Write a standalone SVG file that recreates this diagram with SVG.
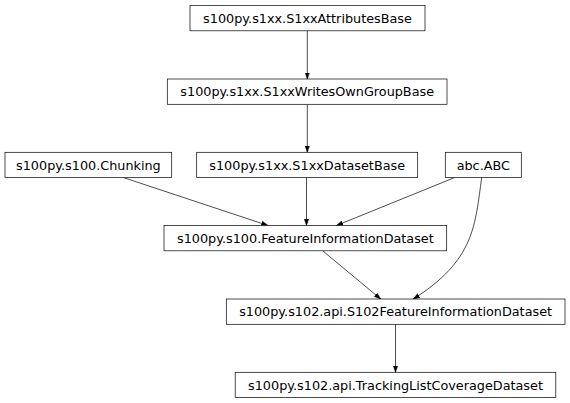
<svg xmlns="http://www.w3.org/2000/svg" width="570" height="403" viewBox="0 0 570 403">
<style>
.n rect{fill:#fff;stroke:#000;stroke-width:0.7}
.n text{font-family:"DejaVu Sans","Liberation Sans",sans-serif;font-size:12.8px;fill:#000;text-anchor:middle}
.e path{fill:none;stroke:#000;stroke-width:0.7}
</style>
<defs>
<marker id="arr" markerUnits="userSpaceOnUse" markerWidth="8" markerHeight="6" refX="6.5" refY="2.5" orient="auto">
<path d="M0,0.3 L6.5,2.5 L0,4.7 z" fill="#000" stroke="#000" stroke-width="0.5"/>
</marker>
</defs>
<rect width="570" height="403" fill="#fff"/>
<g class="e" id="connectors">
<path d="M307.3,30.8 L307.3,79" marker-end="url(#arr)"/>
<path d="M307.3,104.3 L307.3,152.3" marker-end="url(#arr)"/>
<path d="M123.5,177.6 L268,225.5" marker-end="url(#arr)"/>
<path d="M306.5,177.6 L306.5,225.5" marker-end="url(#arr)"/>
<path d="M454.5,177.6 L336.5,225.5" marker-end="url(#arr)"/>
<path d="M481.7,177.6 C475,225 475,260 413.3,299" marker-end="url(#arr)"/>
<path d="M322.7,250.8 L380.7,299" marker-end="url(#arr)"/>
<path d="M395.5,324.3 L395.5,372.3" marker-end="url(#arr)"/>
</g>
<g class="n" id="S1xxAttributesBase">
<rect x="190" y="5.5" width="235" height="25.3"/>
<text x="307.5" y="22.7">s100py.s1xx.S1xxAttributesBase</text>
</g>
<g class="n" id="S1xxWritesOwnGroupBase">
<rect x="167.3" y="79" width="279.7" height="25.3"/>
<text x="307.2" y="96.2">s100py.s1xx.S1xxWritesOwnGroupBase</text>
</g>
<g class="n" id="Chunking">
<rect x="5" y="152.3" width="166.7" height="25.3"/>
<text x="88.4" y="169.5">s100py.s100.Chunking</text>
</g>
<g class="n" id="S1xxDatasetBase">
<rect x="196.7" y="152.3" width="221" height="25.3"/>
<text x="307.2" y="169.5">s100py.s1xx.S1xxDatasetBase</text>
</g>
<g class="n" id="ABC">
<rect x="445.3" y="152.3" width="76" height="25.3"/>
<text x="483.3" y="169.5">abc.ABC</text>
</g>
<g class="n" id="FeatureInformationDataset">
<rect x="164" y="225.5" width="282.7" height="25.3"/>
<text x="305.4" y="242.7">s100py.s100.FeatureInformationDataset</text>
</g>
<g class="n" id="S102FeatureInformationDataset">
<rect x="226.3" y="299" width="338.7" height="25.3"/>
<text x="395.6" y="316.2">s100py.s102.api.S102FeatureInformationDataset</text>
</g>
<g class="n" id="TrackingListCoverageDataset">
<rect x="235.2" y="372.3" width="320.6" height="25.3"/>
<text x="395.5" y="389.5">s100py.s102.api.TrackingListCoverageDataset</text>
</g>
</svg>
